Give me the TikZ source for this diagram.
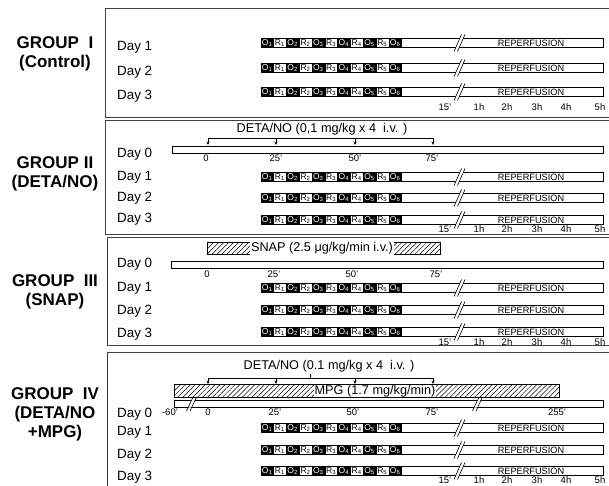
\documentclass[tikz,border=0pt]{standalone}
\usepackage{fontspec}
\setmainfont{Liberation Sans}
\usetikzlibrary{arrows.meta,patterns.meta}
\newcommand\dayrow[4]{%
  \node[daylbl] (#1l) at (117,#3) {#4};
  \node[barbox,minimum width=342.5pt,minimum height=9pt,inner sep=0pt,anchor=west] (#1b) at (260.5,#2) {};
  \foreach \i in {1,...,6}{\node[oblk] (#1o\i) at ({260.5+(2*\i-2)*12.8},#2) {O\textsubscript{\i}};}
  \foreach \i in {1,...,5}{\node[rblk] (#1r\i) at ({260.5+(2*\i-1)*12.8},#2) {R\textsubscript{\i}};}
  \fill[white] (455.5,#2+5.5) -- (458.5,#2+5.5) -- (463.5,#2-5.5) -- (460.5,#2-5.5) -- cycle;
  \draw[brk] (454,#2+8.5) -- (461.5,#2-8.5);
  \draw[brk] (457.5,#2+8.5) -- (465,#2-8.5);
  \node[reptxt] (#1t) at (531,#2) {REPERFUSION};
}
\newcommand\hraxis[2]{%
  \node[axlbl] (#1a) at (445,#2) {15'};
  \node[axlbl] (#1b) at (479,#2) {1h};
  \node[axlbl] (#1c) at (507,#2) {2h};
  \node[axlbl] (#1d) at (537,#2) {3h};
  \node[axlbl] (#1e) at (566,#2) {4h};
  \node[axlbl] (#1f) at (600,#2) {5h};
}
\begin{document}
\begin{tikzpicture}[x=1pt,y=-1pt,
 panel/.style={draw=black!75,line width=0.9pt},
 barbox/.style={draw=black,line width=0.8pt,fill=white},
 daylbl/.style={font=\fontsize{13.4}{15}\selectfont,anchor=west,inner sep=0pt},
 grplbl/.style={font=\bfseries\fontsize{17}{19}\selectfont,align=center,inner sep=0pt},
 axlbl/.style={font=\fontsize{9.5}{10}\selectfont,inner sep=0pt},
 blk/.style={minimum width=12.8pt,minimum height=9pt,inner sep=0pt,anchor=west,font=\fontsize{8.5}{9}\selectfont},
 oblk/.style={blk,fill=black,draw=black,text=white,line width=0.4pt},
 rblk/.style={blk,fill=white,draw=black,text=black,line width=0.4pt},
 reptxt/.style={font=\fontsize{9.2}{10}\selectfont,inner sep=0pt},
 drugtxt/.style={font=\fontsize{12.7}{14}\selectfont,inner sep=1pt},
 hatch/.style={draw=black,line width=0.6pt,pattern={Lines[angle=45,distance=3.5pt,line width=0.5pt]}},
 brk/.style={line width=0.6pt},
 dose/.style={line width=0.6pt,-{Stealth[length=3.5pt,width=3pt]}}
]
\useasboundingbox (0,0) rectangle (609,486);
\fill[white] (0,0) rectangle (609,486);

% panels
\draw[panel] (612,8) -- (105,8) -- (105,117) -- (612,117);
\draw[panel] (612,120) -- (105,120) -- (105,234) -- (612,234);
\draw[panel] (612,237) -- (107,237) -- (107,345) -- (612,345);
\draw[panel] (612,352) -- (107,352) -- (107,490);

% group labels
\node[grplbl] (g1) at (55,54) {GROUP\ \ I\\(Control)};
\node[grplbl] (g2) at (55,174) {GROUP II\\(DETA/NO)};
\node[grplbl] (g3) at (55,292) {GROUP\ \ III\\(SNAP)};
\node[grplbl] (g4) at (55,414) {GROUP\ \ IV\\(DETA/NO\\+MPG)};

% ---------- Group I ----------
\dayrow{a1}{43}{47}{Day 1}
\dayrow{a2}{68}{72}{Day 2}
\dayrow{a3}{92}{96}{Day 3}
\hraxis{ax1}{107}

% ---------- Group II ----------
\node[drugtxt] (d2) at (322,129) {DETA/NO (0,1 mg/kg x 4\ \ i.v. )};
\coordinate (p2a) at (208,138); \coordinate (p2b) at (276,138);
\coordinate (p2c) at (355,138); \coordinate (p2d) at (433,138);
\coordinate (q2a) at (208,145); \coordinate (q2b) at (276,145);
\coordinate (q2c) at (355,145); \coordinate (q2d) at (433,145);
\draw[line width=0.6pt] (p2a) -- (p2d);
\foreach \k in {a,b,c,d}{\draw[dose] (p2\k) -- (q2\k);}
\node[daylbl] (b0l) at (117,154) {Day 0};
\draw[barbox] (172,146) rectangle (603,153);
\node[axlbl] (b0a) at (206,158) {0};
\node[axlbl] (b0b) at (276,158) {25'};
\node[axlbl] (b0c) at (355,158) {50'};
\node[axlbl] (b0d) at (432,158) {75'};
\dayrow{b1}{177}{177}{Day 1}
\dayrow{b2}{198}{198}{Day 2}
\dayrow{b3}{220}{219}{Day 3}
\hraxis{ax2}{229}

% ---------- Group III ----------
\draw[hatch] (207,242) rectangle (440,254);
\node[drugtxt,fill=white] (d3) at (322,248) {SNAP (2.5 μg/kg/min i.v.)};
\node[daylbl] (c0l) at (117,264) {Day 0};
\draw[barbox] (171,261) rectangle (603,268);
\node[axlbl] (c0a) at (207,274) {0};
\node[axlbl] (c0b) at (274,274) {25'};
\node[axlbl] (c0c) at (352,274) {50'};
\node[axlbl] (c0d) at (436,274) {75'};
\dayrow{c1}{288}{288}{Day 1}
\dayrow{c2}{310}{311}{Day 2}
\dayrow{c3}{332}{334}{Day 3}
\hraxis{ax3}{342}

% ---------- Group IV ----------
\node[drugtxt] (d4) at (329,366) {DETA/NO (0.1 mg/kg x 4\ \ i.v. )};
\coordinate (p4a) at (208,378); \coordinate (p4b) at (276,378);
\coordinate (p4c) at (355,378); \coordinate (p4d) at (433,378);
\coordinate (q4a) at (208,384); \coordinate (q4b) at (276,384);
\coordinate (q4c) at (355,384); \coordinate (q4d) at (433,384);
\coordinate (t4a) at (310,378); \coordinate (t4b) at (310,374);
\draw[line width=0.6pt] (p4a) -- (p4d);
\draw[line width=0.6pt] (t4a) -- (t4b);
\draw[hatch] (174,384) rectangle (559,397);
\foreach \k in {a,b,c,d}{\draw[dose] (p4\k) -- (q4\k);}
\node[drugtxt,fill=white,inner sep=0.5pt] (m4) at (375,391) {MPG (1.7 mg/kg/min)};
\node[daylbl] (e0l) at (117,414) {Day 0};
\draw[barbox] (174,400) rectangle (603,407);
\fill[white] (188,407.5) -- (191,407.5) -- (195,399.5) -- (192,399.5) -- cycle;
\draw[brk] (186.5,411) -- (193,397);
\draw[brk] (190,411) -- (196.5,397);
\fill[white] (474,407.5) -- (477,407.5) -- (481,399.5) -- (478,399.5) -- cycle;
\draw[brk] (472.5,411) -- (479,397);
\draw[brk] (476,411) -- (482.5,397);
\node[axlbl] (e0x) at (170,412) {-60'};
\node[axlbl] (e0a) at (208,412) {0};
\node[axlbl] (e0b) at (275,412) {25'};
\node[axlbl] (e0c) at (353,412) {50'};
\node[axlbl] (e0d) at (432,412) {75'};
\node[axlbl] (e0e) at (557,412) {255'};
\dayrow{e1}{428}{432}{Day 1}
\dayrow{e2}{450}{455}{Day 2}
\dayrow{e3}{471}{477}{Day 3}
\hraxis{ax4}{480.5}
\end{tikzpicture}
\end{document}
